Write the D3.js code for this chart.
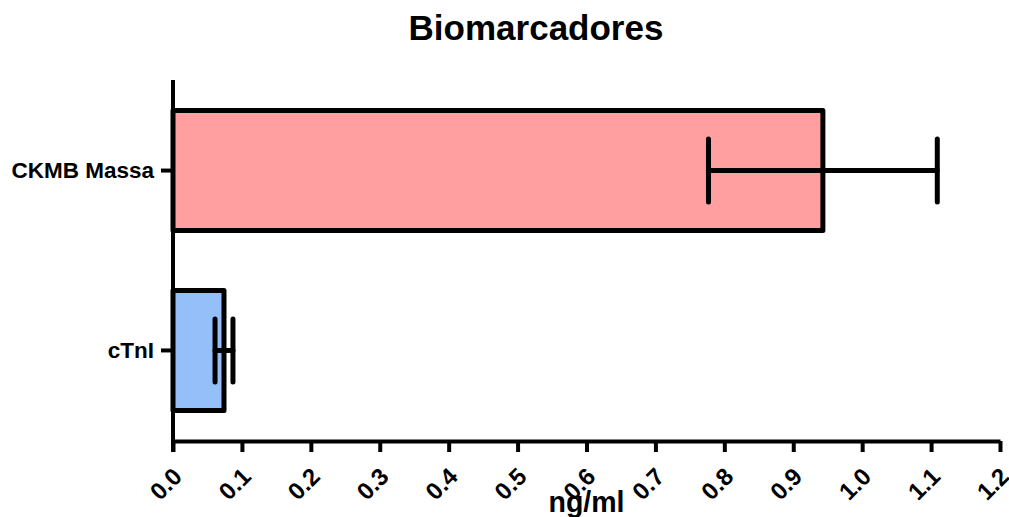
<!DOCTYPE html>
<html>
<head>
<meta charset="utf-8">
<script src="https://cdn.jsdelivr.net/npm/d3@7"></script>
<style>
  body { margin: 0; background: #fff; }
  svg { display: block; font-family: 'Liberation Sans', Arial, sans-serif; }
</style>
</head>
<body>
<div id="chart"></div>
<script>
const categories = ['CKMB Massa', 'cTnI'];
const means = [0.943, 0.074];
const errors = [0.166, 0.013];
const colors = ['#ff9f9f', '#94bff9'];
const xTicks = [0, 0.1, 0.2, 0.3, 0.4, 0.5, 0.6, 0.7, 0.8, 0.9, 1.0, 1.1, 1.2];

const width = 1009;
const height = 517;
const margin = { top: 80, right: 9, bottom: 76, left: 173 };

const data = categories.map((c, i) => ({ cat: c, mean: means[i], err: errors[i], color: colors[i] }));

const svg = d3.select('#chart').append('svg')
  .attr('width', width)
  .attr('height', height);

const x = d3.scaleLinear()
  .domain([0, 1.2])
  .range([margin.left, width - margin.right]);

const y = d3.scaleBand()
  .domain(categories)
  .range([margin.top, height - margin.bottom])
  .paddingInner(1 / 3)
  .paddingOuter(0.17);

// title
svg.append('text')
  .attr('x', 536)
  .attr('y', 40)
  .attr('text-anchor', 'middle')
  .style('font', "bold 35px 'Liberation Sans', Arial, sans-serif")
  .text('Biomarcadores');

// bars
svg.append('g')
  .selectAll('rect')
  .data(data)
  .join('rect')
  .attr('x', x(0))
  .attr('y', (d) => y(d.cat))
  .attr('width', (d) => x(d.mean) - x(0))
  .attr('height', y.bandwidth())
  .attr('fill', (d) => d.color)
  .attr('stroke', '#000')
  .attr('stroke-width', 5)
  .attr('stroke-linejoin', 'round');

// error bars
const capH = 63;
const err = svg.append('g')
  .attr('stroke', '#000')
  .attr('stroke-width', 5)
  .attr('stroke-linecap', 'round');

data.forEach((d) => {
  const cy = y(d.cat) + y.bandwidth() / 2;
  err.append('line')
    .attr('x1', x(d.mean - d.err)).attr('x2', x(d.mean + d.err))
    .attr('y1', cy).attr('y2', cy);
  [d.mean - d.err, d.mean + d.err].forEach((v) => {
    err.append('line')
      .attr('x1', x(v)).attr('x2', x(v))
      .attr('y1', cy - capH / 2).attr('y2', cy + capH / 2);
  });
});

// x axis
const xAxis = svg.append('g')
  .attr('transform', `translate(0, ${height - margin.bottom})`)
  .call(d3.axisBottom(x).tickValues(xTicks).tickSize(11).tickSizeOuter(0).tickFormat(d3.format('.1f')));

xAxis.select('.domain').attr('stroke-width', 4);
xAxis.selectAll('.tick line').attr('stroke-width', 4);
xAxis.selectAll('.tick text')
  .style('font', "bold 24px 'Liberation Sans', Arial, sans-serif")
  .attr('text-anchor', 'end')
  .attr('dy', null)
  .attr('y', 0)
  .attr('transform', 'translate(10, 37) rotate(-45)');

// y axis
const yAxis = svg.append('g')
  .attr('transform', `translate(${margin.left}, 0)`)
  .call(d3.axisLeft(y).tickSize(12).tickSizeOuter(0));

yAxis.select('.domain')
  .attr('d', `M0,${margin.top}V${height - margin.bottom + 11}`)
  .attr('stroke-width', 4);
yAxis.selectAll('.tick line').attr('stroke-width', 4);
yAxis.selectAll('.tick text')
  .style('font', "bold 22.5px 'Liberation Sans', Arial, sans-serif")
  .attr('x', -19);

// x label
svg.append('text')
  .attr('x', (x(0) + x(1.2)) / 2)
  .attr('y', 512)
  .attr('text-anchor', 'middle')
  .attr('textLength', 76)
  .attr('lengthAdjust', 'spacingAndGlyphs')
  .style('font', "bold 30px 'Liberation Sans', Arial, sans-serif")
  .text('ng/ml');
</script>
</body>
</html>
